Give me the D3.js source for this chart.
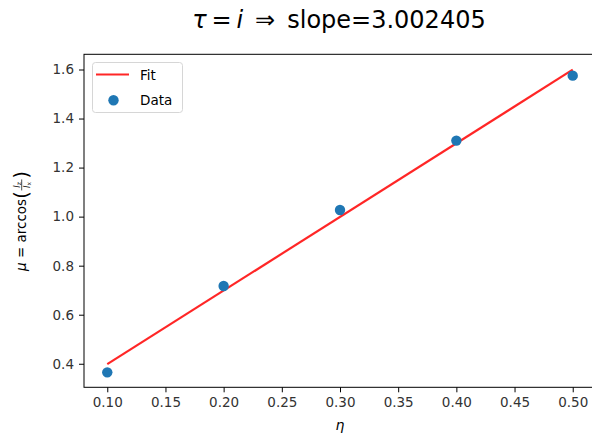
<!DOCTYPE html>
<html>
<head>
<meta charset="utf-8">
<script src="https://cdn.jsdelivr.net/npm/d3@7"></script>
<style>
  body { margin: 0; background: #fff; }
  text { font-family: "DejaVu Sans", sans-serif; }
</style>
</head>
<body>
<svg id="chart"></svg>
<script>
let etas = [0.1, 0.2, 0.3, 0.4, 0.5];
let mus = [0.365, 0.717, 1.027, 1.310, 1.575];
let slope = 3.002405;
let intercept = 0.0981;
let xTicks = [0.10, 0.15, 0.20, 0.25, 0.30, 0.35, 0.40, 0.45, 0.50];
let yTicks = [0.4, 0.6, 0.8, 1.0, 1.2, 1.4, 1.6];

let w = 592;
let h = 439;
let axLeft = 84, axRight = 596, axTop = 54.3, axBottom = 387.3;

let svg = d3.select("#chart").attr("width", w).attr("height", h);

let scalex = d3.scaleLinear().domain([0.08, 0.52]).range([axLeft, axRight]);
let scaley = d3.scaleLinear().domain([0.304, 1.662]).range([axBottom, axTop]);

// axes
let xAxis = d3.axisBottom(scalex).tickValues(xTicks).tickFormat(d3.format(".2f")).tickSize(5).tickPadding(5);
let yAxis = d3.axisLeft(scaley).tickValues(yTicks).tickFormat(d3.format(".1f")).tickSize(5).tickPadding(5);

let gx = svg.append("g").attr("transform", `translate(0,${axBottom})`).call(xAxis);
let gy = svg.append("g").attr("transform", `translate(${axLeft},0)`).call(yAxis);
[gx, gy].forEach(g => {
  g.select(".domain").remove();
  g.selectAll("line").attr("stroke", "#000").attr("stroke-width", 1);
  g.selectAll("text").attr("fill", "#333").attr("font-size", "13.5px")
   .attr("font-family", "DejaVu Sans, sans-serif");
});

// frame
svg.append("rect")
  .attr("x", axLeft).attr("y", axTop)
  .attr("width", axRight - axLeft).attr("height", axBottom - axTop)
  .attr("fill", "none").attr("stroke", "#000").attr("stroke-width", 1);

// fit line
let fitLine = d3.line()
  .x(d => scalex(d))
  .y(d => scaley(slope * d + intercept));
svg.append("path")
  .datum([etas[0], etas[etas.length - 1]])
  .attr("d", fitLine)
  .attr("fill", "none")
  .attr("stroke", "red")
  .attr("stroke-opacity", 0.85)
  .attr("stroke-width", 2.2);

// data
svg.selectAll("circle.pt")
  .data(etas)
  .enter()
  .append("circle")
  .attr("class", "pt")
  .attr("cx", d => scalex(d))
  .attr("cy", (d, i) => scaley(mus[i]))
  .attr("r", 5.2)
  .attr("fill", "#1f77b4");

// legend
let legend = svg.append("g");
legend.append("rect")
  .attr("x", 92.5).attr("y", 62.5).attr("width", 90).attr("height", 50)
  .attr("rx", 3).attr("fill", "#fff").attr("fill-opacity", 0.8)
  .attr("stroke", "#d6d6d6");
legend.append("line")
  .attr("x1", 96).attr("x2", 129).attr("y1", 74.5).attr("y2", 74.5)
  .attr("stroke", "red").attr("stroke-opacity", 0.85).attr("stroke-width", 2.2);
legend.append("text").attr("x", 140).attr("y", 79.5).text("Fit")
  .attr("font-size", "13.5px").attr("fill", "#000");
legend.append("circle").attr("cx", 113.5).attr("cy", 100.3).attr("r", 5.2).attr("fill", "#1f77b4");
legend.append("text").attr("x", 140).attr("y", 105).text("Data")
  .attr("font-size", "13.5px").attr("fill", "#000");

// title
let title = svg.append("text")
  .attr("x", 339).attr("y", 28)
  .attr("text-anchor", "middle")
  .attr("font-size", "24px")
  .attr("fill", "#000");
title.append("tspan").attr("font-style", "italic").text("τ");
title.append("tspan").text("\u2009=\u2009");
title.append("tspan").attr("font-style", "italic").text("i");
title.append("tspan").text("\u2002\u21D2\u2002slope=3.002405");

// x label
svg.append("text")
  .attr("x", 340).attr("y", 430)
  .attr("text-anchor", "middle")
  .attr("font-size", "14px")
  .attr("font-style", "italic")
  .text("η");

// y label, built piece by piece along the rotated baseline
let ylab = svg.append("g");
let cx = 0;
let piece = (txt, size, italic, dy) => {
  let t = ylab.append("text").attr("x", cx).attr("y", dy || 0)
    .attr("font-size", size + "px").attr("fill", "#000").text(txt);
  if (italic) t.attr("font-style", "italic");
  cx += t.node().getComputedTextLength();
  return t;
};
piece("μ", 13.5, true);
piece("\u00A0=\u00A0arccos", 13.5, false);
piece("(", 19, false, 2);
let fx = cx + 6.5;
let sub = (letter, y) => {
  ylab.append("text").attr("x", fx).attr("y", y).attr("font-size", "8.5px")
    .attr("text-anchor", "middle").attr("fill", "#000")
    .html('<tspan font-style="italic">I</tspan><tspan font-size="6px" dy="1.5">' + letter + '</tspan>');
};
sub("z", -6.5);
ylab.append("line").attr("x1", fx - 5.5).attr("x2", fx + 5.5).attr("y1", -4.3).attr("y2", -4.3)
  .attr("stroke", "#000").attr("stroke-width", 0.7);
sub("x", 3.5);
cx += 13;
piece(")", 19, false, 2);
ylab.attr("transform", `translate(26,${221 + cx / 2}) rotate(-90)`);
</script>
</body>
</html>
